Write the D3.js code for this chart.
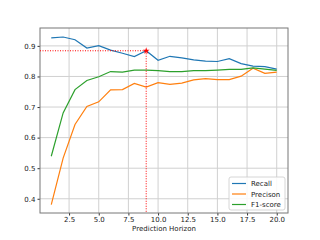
<!DOCTYPE html>
<html><head><meta charset="utf-8">
<script src="https://cdn.jsdelivr.net/npm/d3@7"></script>
<style>body{margin:0;background:#fff}svg{display:block}text{font-family:"DejaVu Sans",sans-serif}</style>
</head><body><svg id="c" width="320" height="240"></svg>
<script>
const horizon = [1,2,3,4,5,6,7,8,9,10,11,12,13,14,15,16,17,18,19,20];
const recall = [0.926,0.929,0.920,0.893,0.901,0.886,0.876,0.865,0.884,0.853,0.866,0.861,0.854,0.850,0.849,0.858,0.842,0.834,0.832,0.824];
const precision = [0.381,0.533,0.643,0.702,0.717,0.756,0.757,0.777,0.765,0.780,0.774,0.778,0.789,0.793,0.790,0.790,0.801,0.827,0.810,0.814];
const f1 = [0.539,0.681,0.757,0.787,0.799,0.816,0.814,0.821,0.821,0.819,0.816,0.816,0.819,0.819,0.821,0.823,0.823,0.828,0.824,0.820];
const xTicks = [2.5,5.0,7.5,10.0,12.5,15.0,17.5,20.0];
const yTicks = [0.4,0.5,0.6,0.7,0.8,0.9];
const seriesNames = ["Recall","Precison","F1-score"];
const colors = ["#1f77b4","#ff7f0e","#2ca02c"];
const best = {x: 9, y: 0.884};

const svg = d3.select("#c");
const L=40, R=288, T=28, B=213;
const x = d3.scaleLinear().domain([0.05,20.95]).range([L,R]);
const y = d3.scaleLinear().domain([0.3535,0.9585]).range([B,T]);

// grid
const g = svg.append("g");
g.selectAll(".gx").data(xTicks).enter().append("line")
 .attr("x1",d=>x(d)).attr("x2",d=>x(d)).attr("y1",T).attr("y2",B)
 .attr("stroke","#d0d0d0").attr("stroke-width",1);
g.selectAll(".gy").data(yTicks).enter().append("line")
 .attr("x1",L).attr("x2",R).attr("y1",d=>y(d)).attr("y2",d=>y(d))
 .attr("stroke","#d0d0d0").attr("stroke-width",1);

// axes
const xa = svg.append("g").attr("transform",`translate(0,${B})`)
 .call(d3.axisBottom(x).tickValues(xTicks).tickFormat(d3.format(".1f")).tickSize(2.5).tickPadding(2));
const ya = svg.append("g").attr("transform",`translate(${L},0)`)
 .call(d3.axisLeft(y).tickValues(yTicks).tickFormat(d3.format(".1f")).tickSize(2.5).tickPadding(2));
[xa,ya].forEach(a=>{a.select(".domain").remove();a.selectAll("text").attr("font-size",7).attr("fill","#222");a.selectAll("line").attr("stroke","#333");});
svg.append("rect").attr("x",L).attr("y",T).attr("width",R-L).attr("height",B-T)
 .attr("fill","none").attr("stroke","#777").attr("stroke-width",1);

// lines
const data = [recall,precision,f1];
const line = d3.line().x((d,i)=>x(horizon[i])).y(d=>y(d));
data.forEach((s,k)=>{
 svg.append("path").datum(s).attr("d",line).attr("fill","none")
  .attr("stroke",colors[k]).attr("stroke-width",1.2);
});

// best marker & dotted guides
svg.append("line").attr("x1",L).attr("x2",x(best.x)).attr("y1",y(best.y)).attr("y2",y(best.y))
 .attr("stroke","red").attr("stroke-width",1).attr("stroke-dasharray","1,1.5");
svg.append("line").attr("x1",x(best.x)).attr("x2",x(best.x)).attr("y1",y(best.y)).attr("y2",B)
 .attr("stroke","red").attr("stroke-width",1).attr("stroke-dasharray","1,1.5");
svg.append("path").attr("d",d3.symbol().type(d3.symbolStar).size(14)())
 .attr("transform",`translate(${x(best.x)},${y(best.y)})`).attr("fill","red");

// legend
const lg = svg.append("g");
lg.append("rect").attr("x",229).attr("y",177).attr("width",56).attr("height",33).attr("rx",2)
 .attr("fill","#fff").attr("fill-opacity",0.85).attr("stroke","#ccc").attr("stroke-width",0.8);
seriesNames.forEach((n,i)=>{
 const yy = 183.5 + i*10.5;
 lg.append("line").attr("x1",232).attr("x2",246).attr("y1",yy).attr("y2",yy).attr("stroke",colors[i]).attr("stroke-width",1.2);
 lg.append("text").attr("x",251).attr("y",yy+2.5).attr("font-size",7).attr("fill","#222").text(n);
});

svg.append("text").attr("x",(L+R)/2).attr("y",231).attr("text-anchor","middle")
 .attr("font-size",7).attr("fill","#222").text("Prediction Horizon");
</script></body></html>
